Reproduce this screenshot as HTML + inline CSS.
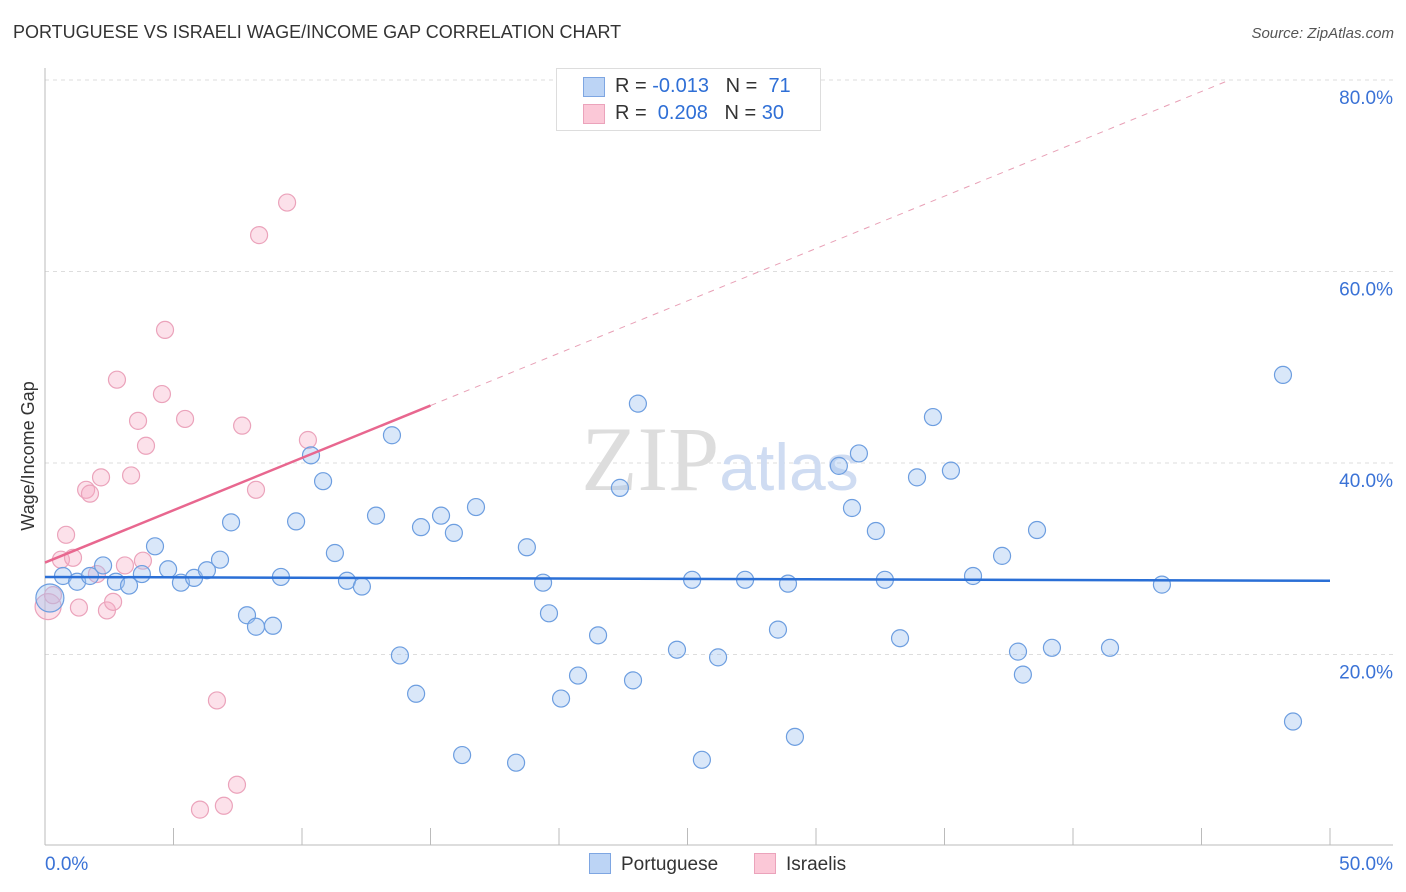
<!DOCTYPE html>
<html><head><meta charset="utf-8"><style>
body{margin:0;background:#fff;font-family:"Liberation Sans",sans-serif}
#wrap{position:relative;width:1406px;height:892px;overflow:hidden}
.t{position:absolute;white-space:nowrap}
</style></head><body>
<div id="wrap">
<div class="t" style="left:13px;top:22px;font-size:18px;color:#333">PORTUGUESE VS ISRAELI WAGE/INCOME GAP CORRELATION CHART</div>
<div class="t" style="right:12px;top:25px;font-size:15px;color:#555;font-style:italic">Source: ZipAtlas.com</div>
<svg id="plot" width="1406" height="892" style="position:absolute;left:0;top:0"></svg>
</div>
<script>
const xTicks=[0,5,10,15,20,25,30,35,40,45,50];
const yTicks=[20,40,60,80];
const portX=[0.70,1.25,1.75,2.26,2.76,3.27,3.77,4.28,4.79,5.29,5.80,6.30,6.81,7.24,7.86,8.21,8.87,9.18,9.77,10.35,10.82,11.28,11.75,12.33,12.88,13.50,13.81,14.44,14.63,15.41,15.91,16.23,16.77,18.33,18.75,19.38,19.61,20.74,20.08,21.52,22.37,22.88,23.07,24.59,25.18,25.56,26.19,27.24,28.52,28.91,29.18,30.89,31.40,31.67,32.33,32.68,33.27,33.93,34.55,35.25,36.11,37.24,37.86,38.05,38.60,39.18,41.44,43.46,48.17,48.56,0.19];
const portY=[28.2,27.6,28.2,29.3,27.6,27.2,28.4,31.3,28.9,27.5,28.0,28.8,29.9,33.8,24.1,22.9,23.0,28.1,33.9,40.8,38.1,30.6,27.7,27.1,34.5,42.9,19.9,15.9,33.3,34.5,32.7,9.5,35.4,8.7,31.2,27.5,24.3,17.8,15.4,22.0,37.4,17.3,46.2,20.5,27.8,9.0,19.7,27.8,22.6,27.4,11.4,39.7,35.3,41.0,32.9,27.8,21.7,38.5,44.8,39.2,28.2,30.3,20.3,17.9,33.0,20.7,20.7,27.3,49.2,13.0,25.9];
const isrX=[0.12,0.31,0.62,0.82,1.09,1.32,1.60,1.75,2.02,2.18,2.41,2.65,2.80,3.11,3.35,3.62,3.81,3.93,4.55,4.67,5.45,6.69,7.47,6.03,6.96,7.67,8.21,8.33,9.42,10.23];
const isrY=[25.0,26.2,29.9,32.5,30.1,24.9,37.2,36.8,28.4,38.5,24.6,25.5,48.7,29.3,38.7,44.4,29.8,41.8,47.2,53.9,44.6,15.2,6.4,3.8,4.2,43.9,37.2,63.8,67.2,42.4];
const portTrend=[28.1,27.7];
const isrTrend=[29.6,46.0];
const X0=45,X1=1330,Y0=846,YPX=191.5/20;
const sx=v=>X0+(X1-X0)*v/50, sy=v=>Y0-v*YPX;
const svg=document.getElementById('plot');const NS='http://www.w3.org/2000/svg';
function mk(t,a,p){const e=document.createElementNS(NS,t);for(const k in a)e.setAttribute(k,a[k]);(p||svg).appendChild(e);return e;}
yTicks.forEach(v=>{const g=mk('line',{x1:45,x2:1393,y1:sy(v),y2:sy(v),stroke:'#ddd','stroke-dasharray':'4,4'});

const t=mk('text',{x:1393,y:sy(v)+24,'text-anchor':'end','font-size':19,fill:'#3a72d6','font-family':'Liberation Sans'});t.textContent=v.toFixed(1)+'%';
});
const ax=mk('line',{x1:45,x2:45,y1:68,y2:845,stroke:'#bbb'});
const bx=mk('line',{x1:45,x2:1393,y1:845,y2:845,stroke:'#bbb'});
xTicks.forEach((v,i)=>{if(i==0)return;const l=mk('line',{x1:sx(v),x2:sx(v),y1:828,y2:845,stroke:'#bbb'});});
[[0,'0.0%','start',45],[50,'50.0%','end',1393]].forEach(a=>{const t=mk('text',{x:a[3],y:870,'text-anchor':a[2],'font-size':19,fill:'#3a72d6','font-family':'Liberation Sans'});t.textContent=a[1];});
const yt=mk('text',{x:0,y:0,transform:'translate(34,456) rotate(-90)','text-anchor':'middle','font-size':18,fill:'#333','font-family':'Liberation Sans'});yt.textContent='Wage/Income Gap';
const wm=mk('text',{x:720,y:490,'text-anchor':'middle','font-size':92,'font-family':'Liberation Serif',fill:'#ddd'});wm.innerHTML='ZIP<tspan font-family="Liberation Sans" font-size="66" fill="#cfdcf2">atlas</tspan>';
isrX.forEach((x,i)=>{const c=mk('circle',{cx:sx(x),cy:sy(isrY[i]),r:i==0?13:8.5,fill:'rgba(247,170,195,0.35)',stroke:'#eba3bb','stroke-width':1.2});});
portX.forEach((x,i)=>{const c=mk('circle',{cx:sx(x),cy:sy(portY[i]),r:i==portX.length-1?14:8.5,fill:'rgba(160,196,240,0.4)',stroke:'#6d9ee0','stroke-width':1.2});});
const pl=mk('line',{x1:sx(0),x2:sx(50),y1:sy(portTrend[0]),y2:sy(portTrend[1]),stroke:'#2a6fd6','stroke-width':2.5});
const sl=(isrTrend[1]-isrTrend[0])/15;const xe=(80-isrTrend[0])/sl;
const idl=mk('line',{x1:sx(15),x2:sx(xe),y1:sy(isrTrend[1]),y2:sy(80),stroke:'#e8a0b6','stroke-width':1,'stroke-dasharray':'6,6'});
const il=mk('line',{x1:sx(0),x2:sx(15),y1:sy(isrTrend[0]),y2:sy(isrTrend[1]),stroke:'#e8678f','stroke-width':2.5});
</script>
<div class="t" style="left:556px;top:68px;width:263px;height:61px;border:1px solid #ddd;background:#fff;font-size:20px;color:#333">
<div style="position:absolute;left:26px;top:8px;width:20px;height:18px;background:#bcd4f5;border:1px solid #7ea6e2"></div>
<div style="position:absolute;left:26px;top:35px;width:20px;height:18px;background:#fbc8d7;border:1px solid #eba3bb"></div>
<div style="position:absolute;left:58px;top:6px">R = <span style="color:#2f6fd6">-0.013</span>&nbsp;&nbsp;&nbsp;N = &nbsp;<span style="color:#2f6fd6">71</span></div>
<div style="position:absolute;left:58px;top:33px">R = &nbsp;<span style="color:#2f6fd6">0.208</span>&nbsp;&nbsp;&nbsp;N = <span style="color:#2f6fd6">30</span></div>
</div>
<div class="t" style="left:589px;top:853px;font-size:19px;color:#333"><span style="display:inline-block;width:20px;height:19px;background:#bcd4f5;border:1px solid #7ea6e2;vertical-align:-4px;margin-right:10px"></span>Portuguese</div>
<div class="t" style="left:754px;top:853px;font-size:19px;color:#333"><span style="display:inline-block;width:20px;height:19px;background:#fbc8d7;border:1px solid #eba3bb;vertical-align:-4px;margin-right:10px"></span>Israelis</div>
</body></html>
